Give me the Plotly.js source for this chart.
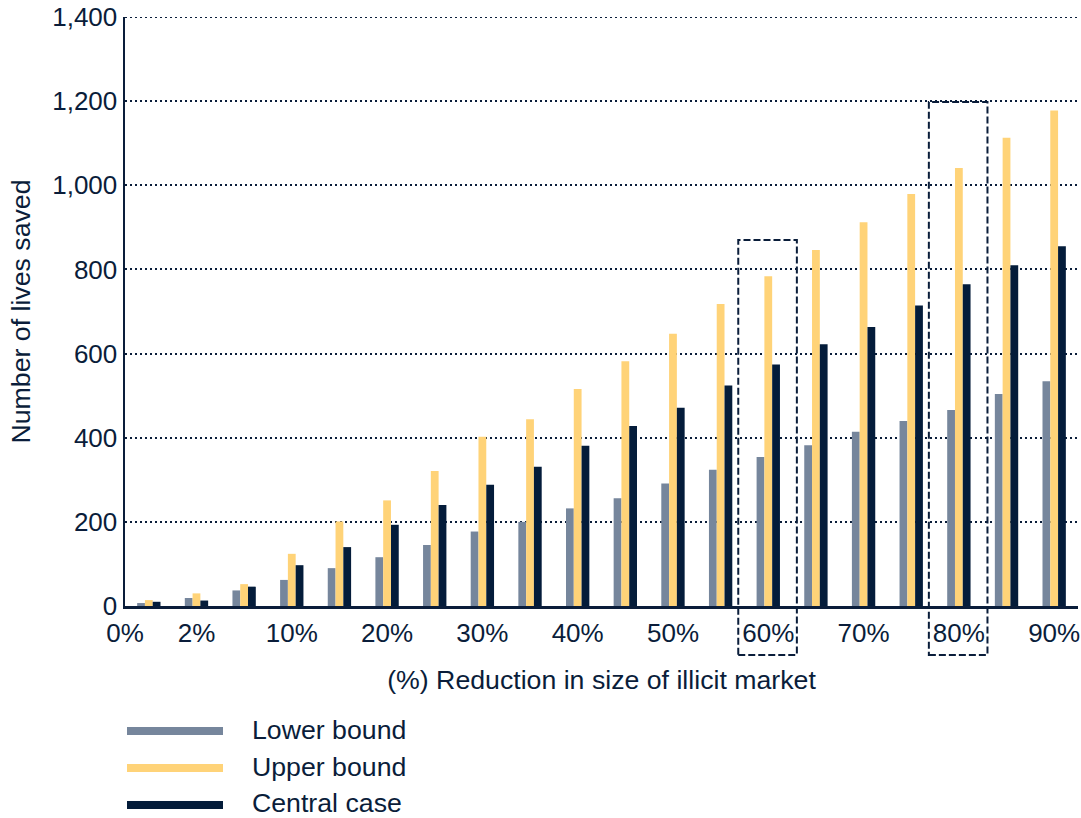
<!DOCTYPE html>
<html>
<head>
<meta charset="utf-8">
<script src="https://cdn.plot.ly/plotly-3.0.1.min.js"></script>
<style>
html,body{margin:0;padding:0;background:#fff;}
#chart{width:1081px;height:818px;}
</style>
</head>
<body>
<div id="chart"></div>
<script>
// ---- data ----
const categories = ['1%','2%','5%','10%','15%','20%','25%','30%','35%','40%','45%','50%','55%','60%','65%','70%','75%','80%','85%','90%'];
const lowerBound = [7,19,37,62,90,116,145,177,200,232,256,291,324,354,382,414,440,466,504,534];
const upperBound = [14,30,52,124,201,251,321,402,444,516,582,647,718,784,846,912,979,1041,1113,1178];
const centralCase = [10,13,46,97,140,193,240,288,331,381,428,471,524,574,622,663,714,765,810,855];
const seriesNames = ['Lower bound','Upper bound','Central case'];
const tickPositions = [-0.5,1,3,5,7,9,11,13,15,17,19];
const tickLabels = ['0%','2%','10%','20%','30%','40%','50%','60%','70%','80%','90%'];
const highlighted = ['60%','80%'];
const highlightTops = [870,1198];
const yMax = 1400;

// ---- styles ----
const NAVY = '#0a1d3a';
const colors = ['#76869c','#ffd378','#041c3a'];
const FONT = 'Liberation Sans, Arial, sans-serif';
const TICK_SIZE = 26;
const TEXT_SIZE = 26.7;

const values = [lowerBound, upperBound, centralCase];
const traces = values.map((v, i) => ({
  type: 'bar',
  name: seriesNames[i],
  x: categories,
  y: v,
  marker: {color: colors[i], line: {width: 0}},
  showlegend: false,
  hoverinfo: 'x+y+name'
}));

// plot geometry (for converting to paper coords)
const plotTop = 17, plotBottom = 606, plotLeft = 125, plotRight = 1078;
const H = plotBottom - plotTop, W = plotRight - plotLeft;
const pyToPaper = py => (plotBottom - py) / H;
const pxToPaper = px => (px - plotLeft) / W;

const shapes = [];
const annotations = [];

// top gridline (at the range edge)
shapes.push({
  type: 'line', xref: 'paper', yref: 'y',
  x0: 0, x1: 1, y0: yMax, y1: yMax,
  line: {color: NAVY, width: 2, dash: '2px,3px'}, layer: 'below'
});

// dashed highlight boxes
highlighted.forEach((cat, k) => {
  const idx = categories.indexOf(cat);
  shapes.push({
    type: 'rect', xref: 'x', yref: 'paper',
    x0: idx - 0.63, x1: idx + 0.6,
    y0: pyToPaper(655), y1: highlightTops[k] / yMax,
    line: {color: NAVY, width: 2, dash: '7px,3px'},
    fillcolor: 'rgba(0,0,0,0)', layer: 'above'
  });
});

// custom legend
const legendLineY = [731, 768, 805];
const legendTextY = [730, 767, 803];
seriesNames.forEach((name, i) => {
  shapes.push({
    type: 'line', xref: 'paper', yref: 'paper',
    x0: pxToPaper(127), x1: pxToPaper(223),
    y0: pyToPaper(legendLineY[i]), y1: pyToPaper(legendLineY[i]),
    line: {color: colors[i], width: 8}
  });
  annotations.push({
    xref: 'paper', yref: 'paper',
    x: pxToPaper(251), y: pyToPaper(legendTextY[i]),
    xanchor: 'left', yanchor: 'middle',
    text: name, showarrow: false, borderpad: 0,
    font: {family: FONT, size: TEXT_SIZE, color: NAVY}
  });
});

const layout = {
  width: 1081, height: 818,
  margin: {l: plotLeft, r: 1081 - plotRight, t: plotTop, b: 818 - plotBottom, pad: 0},
  paper_bgcolor: '#fff', plot_bgcolor: '#fff',
  font: {family: FONT, size: TICK_SIZE, color: NAVY},
  barmode: 'group',
  bargap: 0.51,
  bargroupgap: 0,
  showlegend: false,
  xaxis: {
    type: 'category',
    range: [-0.5, categories.length - 0.5],
    tickmode: 'array',
    tickvals: tickPositions,
    ticktext: tickLabels,
    ticks: 'outside', ticklen: 2, tickcolor: 'rgba(0,0,0,0)',
    showgrid: false,
    zeroline: false,
    showline: true, linecolor: NAVY, linewidth: 2.5,
    tickfont: {family: FONT, size: TICK_SIZE, color: NAVY},
    title: {text: '(%) Reduction in size of illicit market', font: {family: FONT, size: TEXT_SIZE, color: NAVY}, standoff: 24},
    fixedrange: true
  },
  yaxis: {
    range: [0, yMax],
    dtick: 200,
    tickformat: ',',
    ticks: '',
    showgrid: true, gridcolor: NAVY, gridwidth: 2, griddash: '2px,3px',
    zeroline: false,
    showline: true, linecolor: NAVY, linewidth: 2.5,
    tickfont: {family: FONT, size: TICK_SIZE, color: NAVY},
    title: {text: 'Number of lives saved', font: {family: FONT, size: TEXT_SIZE, color: NAVY}, standoff: 14},
    fixedrange: true
  },
  shapes: shapes,
  annotations: annotations
};

Plotly.newPlot('chart', traces, layout, {displayModeBar: false, staticPlot: true});
</script>
</body>
</html>
